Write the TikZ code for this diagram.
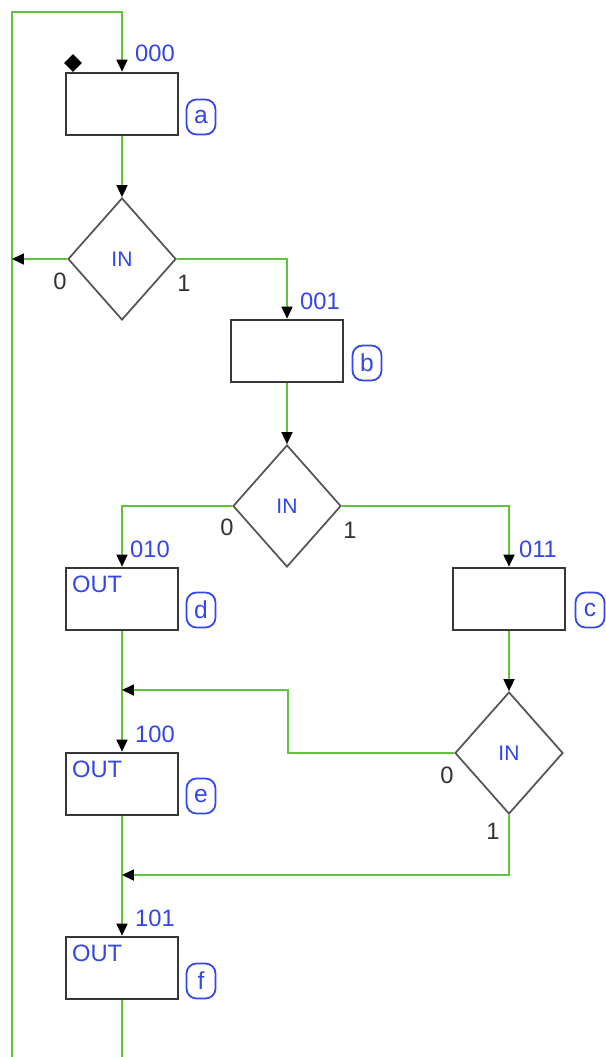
\documentclass[tikz,border=0pt]{standalone}
\usepackage{fontspec}
\setmainfont{Liberation Sans}
\usetikzlibrary{shapes.geometric,arrows.meta,positioning}
\usepackage{xcolor}
\definecolor{wire}{RGB}{95,195,60}
\definecolor{lblue}{RGB}{50,70,235}
\definecolor{frame}{RGB}{55,55,55}

\begin{document}
\begin{tikzpicture}[
  x=0.02cm, y=-0.02cm,
  state/.style={draw=frame, line width=1.5pt, fill=white,
                minimum width=2.24cm, minimum height=1.24cm, inner sep=0pt},
  test/.style={draw=frame!85, line width=1pt, diamond, fill=white,
               minimum width=2.16cm, minimum height=2.44cm, inner sep=0pt,
               text=lblue, font=\fontsize{12}{13}\selectfont},
  code/.style={text=lblue, font=\fontsize{13.5}{15}\selectfont, inner sep=0pt},
  tag/.style={draw=lblue, line width=1pt, rounded corners=2mm, text=lblue,
              minimum width=0.58cm, minimum height=0.7cm, inner sep=0pt,
              font=\fontsize{14}{15}\selectfont},
  bit/.style={text=black!80, font=\fontsize{13.5}{15}\selectfont, inner sep=0pt},
  initmark/.style={diamond, fill=black, minimum size=0.36cm, inner sep=0pt},
  wireline/.style={draw=wire, line width=1pt},
  arr/.style={draw=wire, line width=1pt,
              -{Triangle[color=black, length=2.4mm, width=2.2mm]}}
]
\useasboundingbox (0,0) rectangle (605,1057);

% states
\node[state] (sa) at (122,104) {};
\node[state] (sb) at (287,351) {};
\node[state] (sd) at (122,599) {};
\node[state] (sc) at (509,599) {};
\node[state] (se) at (122,784) {};
\node[state] (sf) at (122,968) {};

% tests
\node[test] (q1) at (122,259) {IN};
\node[test] (q2) at (287,506) {IN};
\node[test] (q3) at (509,753) {IN};

% codes and tags
\node[code] (ca) at (155,53) {000};
\node[code] (cb) at (320,301) {001};
\node[code] (cd) at (150,549) {010};
\node[code] (cc) at (538,549) {011};
\node[code] (ce) at (155,734) {100};
\node[code] (cf) at (155,918) {101};

\node[tag] (ta) at (201,117) {a};
\node[tag] (tb) at (367,363) {b};
\node[tag] (td) at (201,610) {d};
\node[tag] (tc) at (590,610) {c};
\node[tag] (te) at (201,796) {e};
\node[tag] (tf) at (201,981) {f};

\node[code, anchor=north west] (od) at ([xshift=4pt,yshift=-5pt]sd.north west) {OUT};
\node[code, anchor=north west] (oe) at ([xshift=4pt,yshift=-5pt]se.north west) {OUT};
\node[code, anchor=north west] (of) at ([xshift=4pt,yshift=-5pt]sf.north west) {OUT};

\node[initmark] (init) at (73,63) {};

% branch values
\node[bit] (z1) at (60,281) {0};
\node[bit] (o1) at (184,283) {1};
\node[bit] (z2) at (227,527) {0};
\node[bit] (o2) at (350,530) {1};
\node[bit] (z3) at (447,775) {0};
\node[bit] (o3) at (493,831) {1};

% junction points
\coordinate (loopbot) at (12,1057);
\coordinate (looptop) at (12,12);
\coordinate (fend) at (122,1057);
\coordinate (j2) at (122,690);
\coordinate (k2) at (288,690);
\coordinate (j3) at (122,875);

% connectors
\draw[arr] (loopbot) -- (looptop) -| (sa.north);
\draw[arr] (sa) -- (q1);
\draw[arr] (q1.west) -- (q1.west -| loopbot);
\draw[arr] (q1.east) -| (sb.north);
\draw[arr] (sb) -- (q2);
\draw[arr] (q2.west) -| (sd.north);
\draw[arr] (q2.east) -| (sc.north);
\draw[arr] (sc) -- (q3);
\draw[arr] (sd) -- (se);
\draw[arr] (q3.west) -| (k2) -- (j2);
\draw[arr] (se) -- (sf);
\draw[arr] (q3.south) |- (j3);
\draw[wireline] (sf) -- (fend);
\end{tikzpicture}
\end{document}
